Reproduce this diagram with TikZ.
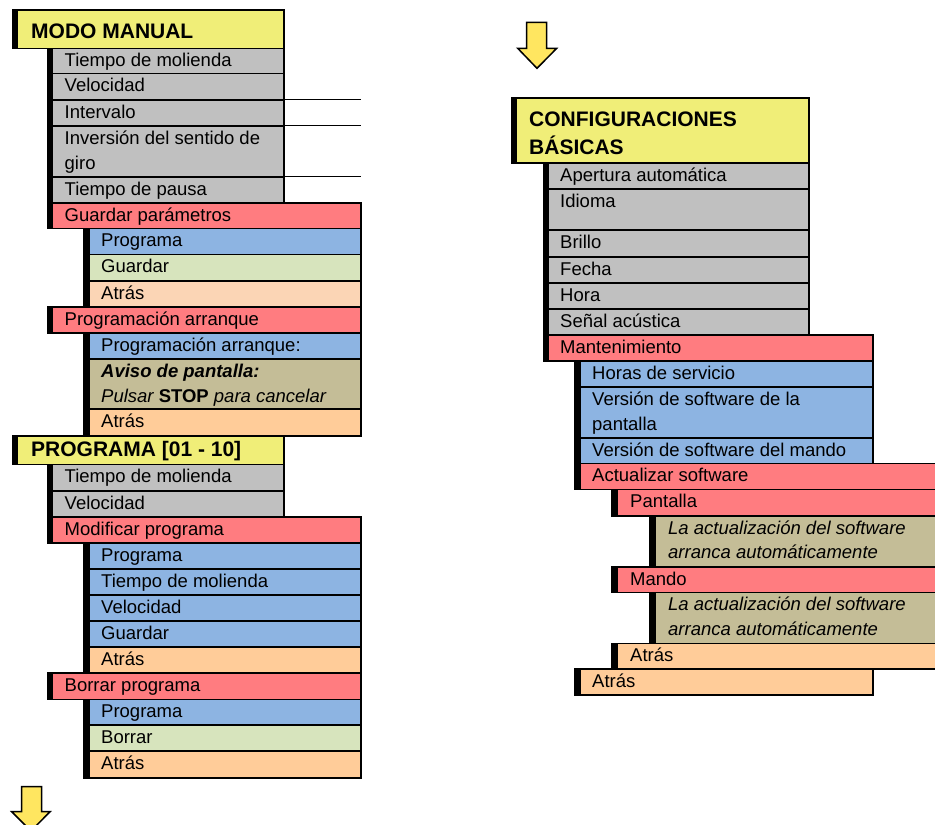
\documentclass[tikz,border=0pt]{standalone}
\usepackage{fontspec}
\setmainfont{Liberation Sans}
\definecolor{cTitle}{HTML}{F0EE78}
\definecolor{cGrey}{HTML}{C0C0C0}
\definecolor{cRed}{HTML}{FF7C80}
\definecolor{cBlue}{HTML}{8DB4E2}
\definecolor{cGreen}{HTML}{D7E4BD}
\definecolor{cPeachL}{HTML}{FBD5B5}
\definecolor{cPeach}{HTML}{FFCC99}
\definecolor{cKhaki}{HTML}{C4BD97}
\definecolor{cArrow}{HTML}{FFE660}
\tikzset{
  cellborder/.style={draw=black, line width=1.6pt},
  txt/.style={anchor=base west, inner sep=0pt, font=\fontsize{18.5}{22}\selectfont},
  ttl/.style={anchor=base west, inner sep=0pt, font=\fontsize{21}{25}\selectfont\bfseries},
  thinline/.style={draw=black, line width=1.3pt},
  arrowst/.style={draw=black, line width=1.5pt, fill=cArrow, line join=miter}
}
\newcommand\mcell[5]{%
  \filldraw[cellborder, fill=#5] (#1,-#2) rectangle (#3,-#4);
  \fill[black] (#1,-#2) rectangle ({#1+5.5},-#4);}
\begin{document}
\begin{tikzpicture}[x=1pt,y=1pt]
\useasboundingbox (0,0) rectangle (935,-825);
\clip (0,0) rectangle (935,-825);
% ---------------- left column ----------------
\mcell{12.7}{10}{284}{48.3}{cTitle}
\node[ttl] (mm) at (31,-38) {MODO MANUAL};
\mcell{47.3}{48.3}{284}{73.3}{cGrey}
\node[txt] (a1) at (64.5,-66.8) {Tiempo de molienda};
\mcell{47.3}{73.3}{284}{99.7}{cGrey}
\node[txt] (a2) at (64.5,-91.8) {Velocidad};
\mcell{47.3}{99.7}{284}{125.7}{cGrey}
\node[txt] (a3) at (64.5,-118.2) {Intervalo};
\mcell{47.3}{125.7}{284}{176.7}{cGrey}
\node[txt] (a4) at (64.5,-144.2) {Inversión del sentido de};
\node[txt] (a4b) at (64.5,-169.2) {giro};
\mcell{47.3}{176.7}{284}{202.7}{cGrey}
\node[txt] (a5) at (64.5,-195.2) {Tiempo de pausa};
\draw[thinline] (284,-99.7) -- (361,-99.7);
\draw[thinline] (284,-125.7) -- (361,-125.7);
\draw[thinline] (284,-176.7) -- (361,-176.7);
\mcell{47.3}{202.7}{361}{228.3}{cRed}
\node[txt] (a6) at (64.5,-221.2) {Guardar parámetros};
\mcell{84}{228.3}{361}{254.3}{cBlue}
\node[txt] (a7) at (101,-246.8) {Programa};
\mcell{84}{254.3}{361}{280.7}{cGreen}
\node[txt] (a8) at (101,-272.8) {Guardar};
\mcell{84}{280.7}{361}{306.7}{cPeachL}
\node[txt] (a9) at (101,-299.2) {Atrás};
\mcell{47.3}{306.7}{361}{332.7}{cRed}
\node[txt] (a10) at (64.5,-325.2) {Programación arranque};
\mcell{84}{332.7}{361}{358.7}{cBlue}
\node[txt] (a11) at (101,-351.2) {Programación arranque:};
\mcell{84}{358.7}{361}{409}{cKhaki}
\node[txt] (a12) at (101,-377.2) {\bfseries\itshape Aviso de pantalla:};
\node[txt] (a12b) at (101,-402.2) {\itshape Pulsar \textbf{\upshape STOP} para cancelar};
\mcell{84}{409}{361}{435.7}{cPeach}
\node[txt] (a13) at (101,-427.5) {Atrás};
\mcell{12.7}{436}{284}{464.3}{cTitle}
\node[ttl] (pg) at (31,-456) {PROGRAMA [01 - 10]};
\mcell{47.3}{464.3}{284}{491}{cGrey}
\node[txt] (b1) at (64.5,-482.8) {Tiempo de molienda};
\mcell{47.3}{491}{284}{516.7}{cGrey}
\node[txt] (b2) at (64.5,-509.5) {Velocidad};
\mcell{47.3}{516.7}{361}{542.7}{cRed}
\node[txt] (b3) at (64.5,-535.2) {Modificar programa};
\mcell{84}{542.7}{361}{568.7}{cBlue}
\node[txt] (b4) at (101,-561.2) {Programa};
\mcell{84}{568.7}{361}{594.7}{cBlue}
\node[txt] (b5) at (101,-587.2) {Tiempo de molienda};
\mcell{84}{594.7}{361}{620.7}{cBlue}
\node[txt] (b6) at (101,-613.2) {Velocidad};
\mcell{84}{620.7}{361}{646.7}{cBlue}
\node[txt] (b7) at (101,-639.2) {Guardar};
\mcell{84}{646.7}{361}{672.7}{cPeach}
\node[txt] (b8) at (101,-665.2) {Atrás};
\mcell{47.3}{672.7}{361}{699.3}{cRed}
\node[txt] (b9) at (64.5,-691.2) {Borrar programa};
\mcell{84}{699.3}{361}{725}{cBlue}
\node[txt] (b10) at (101,-717.8) {Programa};
\mcell{84}{725}{361}{751}{cGreen}
\node[txt] (b11) at (101,-743.5) {Borrar};
\mcell{84}{751}{361}{777.7}{cPeach}
\node[txt] (b12) at (101,-769.5) {Atrás};
\filldraw[arrowst] (21.7,-786.7) -- (41.7,-786.7) -- (41.7,-811.7) -- (50,-811.7)
  -- (31,-831) -- (11.7,-811.7) -- (21.7,-811.7) -- cycle;
% ---------------- right column ----------------
\filldraw[arrowst] (526.7,-22.3) -- (546.7,-22.3) -- (546.7,-48.3) -- (556.7,-48.3)
  -- (537,-68.3) -- (517.7,-48.3) -- (526.7,-48.3) -- cycle;
\mcell{511.7}{97.7}{809}{163}{cTitle}
\node[ttl] (cb) at (529,-126) {CONFIGURACIONES};
\node[ttl] (cbb) at (529,-154) {BÁSICAS};
\mcell{543.3}{163}{809}{189}{cGrey}
\node[txt] (c1) at (560,-181.5) {Apertura automática};
\mcell{543.3}{189}{809}{230}{cGrey}
\node[txt] (c2) at (560,-207.5) {Idioma};
\mcell{543.3}{230}{809}{256.7}{cGrey}
\node[txt] (c3) at (560,-248.5) {Brillo};
\mcell{543.3}{256.7}{809}{282.7}{cGrey}
\node[txt] (c4) at (560,-275.2) {Fecha};
\mcell{543.3}{282.7}{809}{308.7}{cGrey}
\node[txt] (c5) at (560,-301.2) {Hora};
\mcell{543.3}{308.7}{809}{334.7}{cGrey}
\node[txt] (c6) at (560,-327.2) {Señal acústica};
\mcell{543.3}{334.7}{873}{360.7}{cRed}
\node[txt] (c7) at (560,-353.2) {Mantenimiento};
\mcell{575}{360.7}{873}{386.7}{cBlue}
\node[txt] (c8) at (592,-379.2) {Horas de servicio};
\mcell{575}{386.7}{873}{437.7}{cBlue}
\node[txt] (c9) at (592,-405.2) {Versión de software de la};
\node[txt] (c9b) at (592,-430.2) {pantalla};
\mcell{575}{437.7}{873}{463.3}{cBlue}
\node[txt] (c10) at (592,-456.2) {Versión de software del mando};
\mcell{575}{463.3}{950}{489.3}{cRed}
\node[txt] (c11) at (592,-481.8) {Actualizar software};
\mcell{612}{489.3}{950}{515.7}{cRed}
\node[txt] (c12) at (630,-507.8) {Pantalla};
\mcell{650}{515.7}{950}{566.7}{cKhaki}
\node[txt] (c13) at (668,-534.2) {\itshape La actualización del software};
\node[txt] (c13b) at (668,-558.5) {\itshape arranca automáticamente};
\mcell{612}{566.7}{950}{592.3}{cRed}
\node[txt] (c14) at (630,-585.2) {Mando};
\mcell{650}{592.3}{950}{643.3}{cKhaki}
\node[txt] (c15) at (668,-610.8) {\itshape La actualización del software};
\node[txt] (c15b) at (668,-635) {\itshape arranca automáticamente};
\mcell{612}{643.3}{950}{669}{cPeach}
\node[txt] (c16) at (630,-661.8) {Atrás};
\mcell{575}{669}{873}{695}{cPeach}
\node[txt] (c17) at (592,-687.5) {Atrás};
\end{tikzpicture}
\end{document}
